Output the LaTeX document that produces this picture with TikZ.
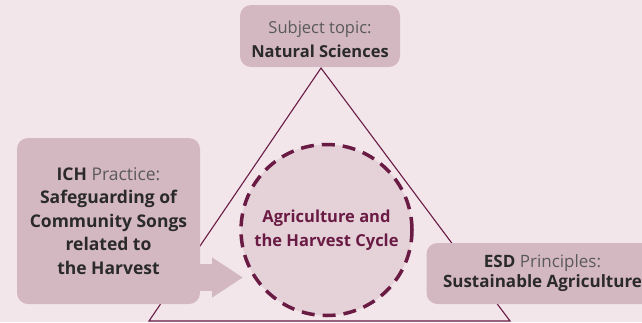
\documentclass[tikz,border=0pt]{standalone}
\usepackage{fontspec}
\setmainfont{Open Sans}
\usetikzlibrary{arrows.meta}

\definecolor{bgpink}{HTML}{F2E6EB}
\definecolor{boxpink}{HTML}{D4B8C1}
\definecolor{discpink}{HTML}{E5D1D8}
\definecolor{plum}{HTML}{6A1B43}
\definecolor{litetxt}{HTML}{5A5A5A}
\definecolor{darktxt}{HTML}{2A2A2A}
\newcommand{\lite}[1]{\textcolor{litetxt}{#1}}

\begin{document}
\begin{tikzpicture}[x=1pt,y=-1pt,
    box/.style={fill=boxpink,rounded corners=11pt,align=center,text=darktxt,inner sep=0pt},
    disc/.style={circle,fill=discpink,draw=plum,line width=3.5pt,dash pattern=on 13pt off 8pt,
      minimum size=171pt,inner sep=0pt,align=center,text=plum},
    edge/.style={draw=plum,line width=1.1pt}]
  \fill[bgpink] (0,0) rectangle (642,322);
  \useasboundingbox (0,0) rectangle (642,322);

  % triangle
  \coordinate (top) at (321,68);
  \coordinate (bl) at (149,321);
  \coordinate (br) at (510,321);
  \draw[edge] (top) -- (bl) -- (br) -- cycle;

  \node[disc,font=\fontsize{16.5}{24}\selectfont\bfseries] (theme) at (326.5,230)
    {Agriculture and\\the Harvest Cycle};

  \node[box,minimum width=160pt,minimum height=62pt,text height=44pt,font=\fontsize{16.5}{24}\selectfont] (topic) at (320,36)
    {\lite{Subject topic:}\\\textbf{Natural Sciences}};

  \node[box,minimum width=183pt,minimum height=166pt,font=\fontsize{17.5}{23.5}\selectfont\bfseries] (ich) at (108.5,221)
    {ICH \lite{\mdseries Practice:}\\Safeguarding of\\Community Songs\\related to\\the Harvest};

  \node[box,minimum width=232pt,minimum height=61pt,font=\fontsize{17}{20}\selectfont] (esd) at (542.5,273.5)
    {\textbf{ESD} \lite{Principles:}\\\textbf{Sustainable Agriculture}};

  % arrow into the theme
  \coordinate (tip) at (243,277.5);
  \draw[boxpink,line width=27pt,-{Triangle[width=38pt,length=31pt]}] ([xshift=-2pt]ich.east |- tip) -- (tip);
\end{tikzpicture}
\end{document}
